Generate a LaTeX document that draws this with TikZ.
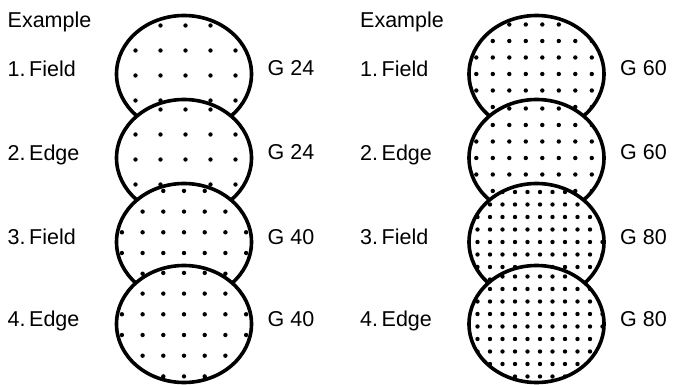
\documentclass[tikz,border=0pt]{standalone}
\usepackage{fontspec}
\setmainfont{Liberation Sans}
\usetikzlibrary{positioning}

\tikzset{
  lens/.style={line width=3.6pt},
  grain/.style={fill=black},
  lbl/.style={anchor=base west, inner sep=0pt, font=\fontsize{21.5}{26}\selectfont},
}

\begin{document}
\begin{tikzpicture}[x=1pt,y=-1pt]
\useasboundingbox (0,0) rectangle (675,385);

% Column headings
\node[lbl] (exL) at (7.5,28) {Example};
\node[lbl] (exR) at (360,28) {Example};

% Draw the lenses top to bottom, each one covers the one above
% cx/cy = centre, s = dot spacing, dx/dy = grid shift, lx = label x
\foreach \cx/\cy/\s/\dx/\dy/\lx/\n/\lab/\g [count=\i] in {
  184/74/25/1.5/1.5/7.5/1/Field/24,
  184/158/25/1.5/1.5/7.5/2/Edge/24,
  184/242/20.7/0/11/7.5/3/Field/40,
  184/324/20.7/0/11/7.5/4/Edge/40,
  536.5/74/16.5/5.8/0/360/1/Field/60,
  536.5/158/16.5/5.8/0/360/2/Edge/60,
  536.5/242/12.5/3.5/0/360/3/Field/80,
  536.5/324/12.5/3.5/2.5/360/4/Edge/80
}
{
  \coordinate (c\i) at (\cx,\cy);
  \fill[white] (c\i) ellipse [x radius=67.5pt, y radius=58.5pt];
  \begin{scope}
    \clip (c\i) ellipse [x radius=67.5pt, y radius=58.5pt];
    \foreach \u in {-6,...,6}
      \foreach \v in {-6,...,6}
        \fill[grain] (\cx+\dx+\u*\s, \cy+\dy+\v*\s) circle [radius=2.2pt];
  \end{scope}
  \draw[lens] (c\i) ellipse [x radius=67.5pt, y radius=58.5pt];

  % Labels left and right of the lens
  \node[lbl] (name\i) at (\lx,\cy+2.5) {\n.\,\lab};
  \node[lbl] (grit\i) at (\cx+83.5,\cy+2) {G \g};
}

\end{tikzpicture}
\end{document}
